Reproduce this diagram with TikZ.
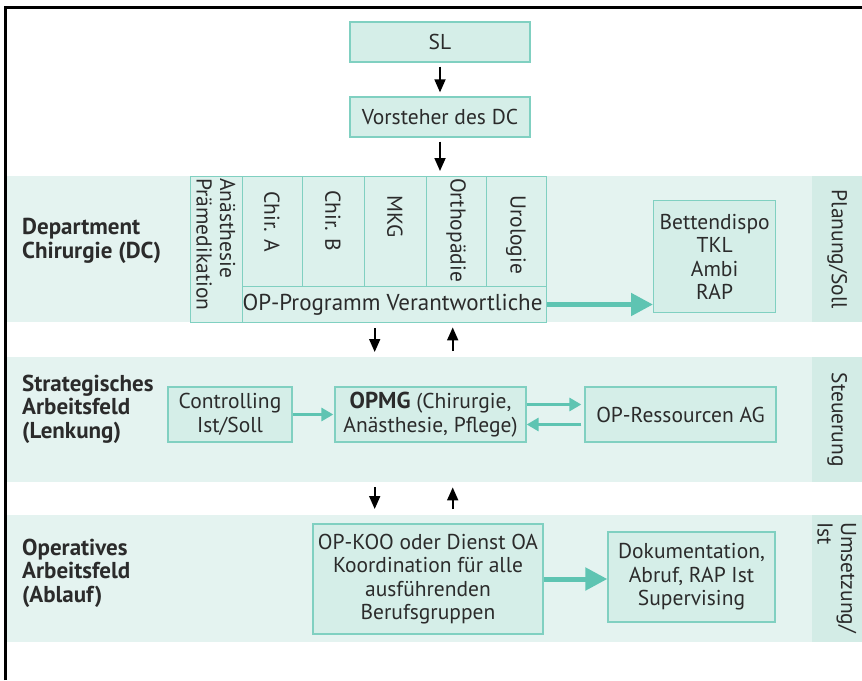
\documentclass[tikz,border=0pt]{standalone}
\usepackage{fontspec}
\setmainfont{PT Sans}
\usetikzlibrary{arrows.meta}
\definecolor{bandc}{HTML}{E4F3F0}
\definecolor{stripc}{HTML}{D3ECE6}
\definecolor{boxc}{HTML}{D5EEE8}
\definecolor{colc}{HTML}{DCF1EC}
\definecolor{boxline}{HTML}{80D0C1}
\definecolor{arrc}{HTML}{5EC4B2}
\definecolor{txtc}{HTML}{2B2B2B}
\newcommand\mytxt{\fontsize{21.5}{23.5}\selectfont}
\newcommand\mybold{\fontsize{23}{23.5}\selectfont\bfseries}
\begin{document}
\begin{tikzpicture}[x=1pt,y=-1pt,
  band/.style={fill=bandc, draw=none, inner sep=0, minimum width=805, anchor=north west},
  strip/.style={fill=stripc, draw=none, inner sep=0, minimum width=50, anchor=north west},
  box/.style={draw=boxline, fill=boxc, line width=1.3pt, align=center, inner sep=0, font=\mytxt, text=txtc},
  col/.style={draw=boxline, fill=colc, line width=1pt, inner sep=0, anchor=north west},
  lbl/.style={font=\mytxt, text=txtc, inner sep=0},
  bold/.style={font=\mybold, text=txtc, inner sep=0, align=left, anchor=west},
  vert/.style={font=\mytxt, text=txtc, inner sep=0, rotate=-90, align=left, anchor=west},
  blk/.style={draw=black, line width=1.8pt, -{Triangle[length=13pt,width=11pt]}},
  bigarr/.style={draw=arrc, line width=5pt, -{Triangle[length=22pt,width=22pt]}},
  smarr/.style={draw=arrc, line width=3pt, -{Triangle[length=12pt,width=13pt]}}
]
\useasboundingbox (0,0) rectangle (862,680);
\fill[white] (0,0) rectangle (862,680);
% frame
\draw[line width=3pt] (5,680) -- (5,7) -- (862,7);

% bands
\node[band, minimum height=146] (b1) at (7,176) {};
\node[strip, minimum height=146] (s1) at (812,176) {};
\node[band, minimum height=125] (b2) at (7,357) {};
\node[strip, minimum height=125] (s2) at (812,357) {};
\node[band, minimum height=127] (b3) at (7,515) {};
\node[strip, minimum height=127] (s3) at (812,515) {};

% top boxes
\node[box, minimum width=180, minimum height=40] (sl) at (440,42) {SL};
\node[box, minimum width=180, minimum height=40] (vor) at (440,117) {Vorsteher des DC};
\draw[blk] ([yshift=-4pt]sl.south) -- ([yshift=4pt]vor.north);
\draw[blk] ([yshift=-4pt]vor.south) -- ([yshift=5pt]vor.south |- b1.north);

% band 1
\node[bold] (dc) at (22,241) {Department\\Chirurgie (DC)};
\node[col, minimum width=52, minimum height=146] (cana) at (190,176) {};
\node[col, minimum width=60, minimum height=110] (cA) at (242,176) {};
\node[col, minimum width=62, minimum height=110] (cB) at (302,176) {};
\node[col, minimum width=62, minimum height=110] (cM) at (364,176) {};
\node[col, minimum width=60, minimum height=110] (cO) at (426,176) {};
\node[col, minimum width=60, minimum height=110] (cU) at (486,176) {};
\node[col, minimum width=304, minimum height=36] (opp) at (242,286) {};
\node[lbl, font=\fontsize{23}{24}\selectfont] (oppt) at ([xshift=-2pt]opp.center) {OP-Programm Verantwortliche};
\node[vert] (tana) at (216,178) {Anästhesie\\Prämedikation};
\node[vert] (tA) at (272,191) {Chir. A};
\node[vert] (tB) at (333,190) {Chir. B};
\node[vert] (tM) at (395,195) {MKG};
\node[vert] (tO) at (456,178) {Orthopädie};
\node[vert] (tU) at (516,195) {Urologie};
\node[box, minimum width=122, minimum height=112, anchor=north west] (bett) at (653,200) {Bettendispo\\TKL\\Ambi\\RAP};
\draw[bigarr] (opp.east) -- (opp.east -| bett.west);
\node[vert, anchor=center] (ps) at (s1.center) {Planung/Soll};

% arrows band1 - band2
\draw[blk] ([xshift=-35pt,yshift=-6pt]b1.south) -- ([xshift=-35pt,yshift=5pt]b2.north);
\draw[blk] ([xshift=43pt,yshift=6pt]b2.north) -- ([xshift=43pt,yshift=-5pt]b1.south);

% band 2
\node[bold] (sa) at (22,409) {Strategisches\\Arbeitsfeld\\(Lenkung)};
\node[box, minimum width=124, minimum height=55] (ctrl) at (230,414.5) {Controlling\\Ist/Soll};
\node[box, minimum width=191, minimum height=55] (opmg) at (430.5,414.5) {{\mybold OPMG} (Chirurgie,\\Anästhesie, Pflege)};
\node[box, minimum width=191, minimum height=55] (res) at (680.5,414.5) {OP-Ressourcen AG};
\draw[smarr] (ctrl.east) -- ([xshift=-1pt]opmg.west);
\draw[smarr] ([yshift=10pt]opmg.east) -- ([yshift=10pt,xshift=-3pt]res.west);
\draw[smarr] ([yshift=-10pt,xshift=-3pt]res.west) -- ([yshift=-10pt]opmg.east);
\node[vert, anchor=center] (st) at (s2.center) {Steuerung};

% arrows band2 - band3
\draw[blk] ([xshift=-35pt,yshift=-5pt]b2.south) -- ([xshift=-35pt,yshift=6pt]b3.north);
\draw[blk] ([xshift=43pt,yshift=6pt]b3.north) -- ([xshift=43pt,yshift=-5pt]b2.south);

% band 3
\node[bold] (oa) at (22,573) {Operatives\\Arbeitsfeld\\(Ablauf)};
\node[box, minimum width=230, minimum height=110] (koo) at (428,579) {OP-KOO oder Dienst OA\\Koordination für alle\\ausführenden\\Berufsgruppen};
\node[box, minimum width=167, minimum height=90] (doku) at (691.5,577) {Dokumentation,\\Abruf, RAP Ist\\Supervising};
\draw[bigarr] (koo.east) -- (koo.east -| doku.west);
\node[vert] (ui) at (837,522) {Umsetzung/\\Ist};
\end{tikzpicture}
\end{document}
